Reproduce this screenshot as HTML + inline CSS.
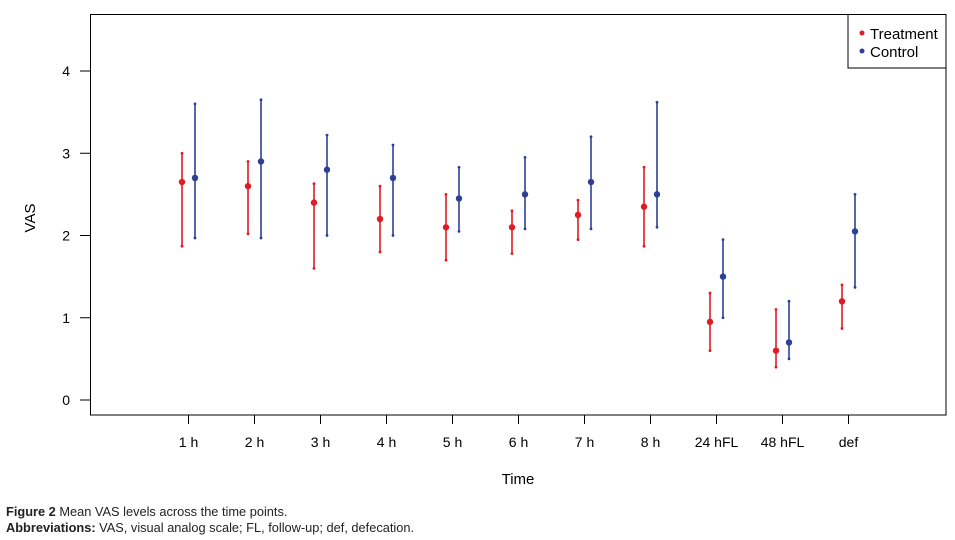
<!DOCTYPE html>
<html><head><meta charset="utf-8"><style>
body{margin:0;background:#fff;width:955px;height:540px;overflow:hidden;font-family:"Liberation Sans",sans-serif}
.cap{position:absolute;left:6px;font-size:12.8px;color:#222;white-space:nowrap}
</style></head><body>
<svg id="chart" width="955" height="500" style="position:absolute;left:0;top:0" font-family="Liberation Sans, sans-serif">
<rect x="90.5" y="14.5" width="855.5" height="400.5" fill="none" stroke="#000" stroke-width="1"/>
<g id="axes"></g><g id="marks"></g>
<g>
<rect x="848" y="14.5" width="98" height="53.5" fill="#fff" stroke="#000"/>
<circle cx="862" cy="33" r="2.5" fill="#e01b24"/><text x="870" y="39" font-size="15">Treatment</text>
<circle cx="862" cy="51" r="2.5" fill="#2e3f96"/><text x="870" y="57" font-size="15">Control</text>
</g>
<text x="518" y="484" font-size="15" text-anchor="middle">Time</text>
<text transform="translate(35,218) rotate(-90)" font-size="15" text-anchor="middle">VAS</text>
</svg>
<div class="cap" style="top:504px"><b>Figure 2</b> Mean VAS levels across the time points.</div>
<div class="cap" style="top:520px"><b>Abbreviations:</b> VAS, visual analog scale; FL, follow-up; def, defecation.</div>
<script>
const categories=["1 h","2 h","3 h","4 h","5 h","6 h","7 h","8 h","24 hFL","48 hFL","def"];
const yTicks=[0,1,2,3,4];
const treatMean=[2.65,2.6,2.4,2.2,2.1,2.1,2.25,2.35,0.95,0.6,1.2];
const treatLo=[1.87,2.02,1.6,1.8,1.7,1.78,1.95,1.87,0.6,0.4,0.87];
const treatHi=[3.0,2.9,2.63,2.6,2.5,2.3,2.43,2.83,1.3,1.1,1.4];
const ctrlMean=[2.7,2.9,2.8,2.7,2.45,2.5,2.65,2.5,1.5,0.7,2.05];
const ctrlLo=[1.97,1.97,2.0,2.0,2.05,2.08,2.08,2.1,1.0,0.5,1.37];
const ctrlHi=[3.6,3.65,3.22,3.1,2.83,2.95,3.2,3.62,1.95,1.2,2.5];
const NS="http://www.w3.org/2000/svg";
const y=v=>400-v*82.25;
const x=i=>188.5+i*66;
function mk(tag,attrs,parent){const e=document.createElementNS(NS,tag);for(const k in attrs)e.setAttribute(k,attrs[k]);parent.appendChild(e);return e;}
const axes=document.getElementById('axes'),marks=document.getElementById('marks');
yTicks.forEach(t=>{
 const l=mk('line',{x1:80,x2:90,y1:y(t),y2:y(t),stroke:'#000'},axes);
 
 
 const tx=mk('text',{x:70,y:y(t)+5,'font-size':14,'text-anchor':'end'},axes);
 tx.textContent=t;
 
 
});
categories.forEach((c,i)=>{
 const tk=mk('line',{x1:x(i),x2:x(i),y1:415,y2:424,stroke:'#000'},axes);
 
 
 const tx=mk('text',{x:x(i),y:447,'font-size':14,'text-anchor':'middle'},axes);
 tx.textContent=c;
 
 
});
function series(mean,lo,hi,off,col,name){
 mean.forEach((m,i)=>{
  const cx=x(i)+off;
  const g=mk('g',{},marks);
  
  
  mk('line',{x1:cx,x2:cx,y1:y(lo[i]),y2:y(hi[i]),stroke:col,'stroke-width':1.6},g);
  mk('circle',{cx:cx,cy:y(lo[i]),r:1.4,fill:col},g);
  mk('circle',{cx:cx,cy:y(hi[i]),r:1.4,fill:col},g);
  mk('circle',{cx:cx,cy:y(m),r:3.2,fill:col},g);
 });
}
series(treatMean,treatLo,treatHi,-6.5,'#e01b24','treatment');
series(ctrlMean,ctrlLo,ctrlHi,6.5,'#2e3f96','control');
</script>
</body></html>
